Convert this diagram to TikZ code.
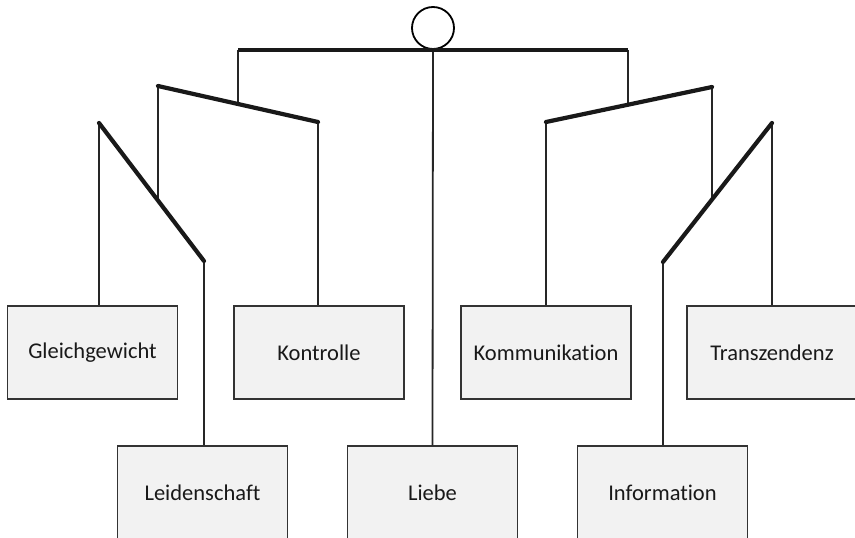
\documentclass[tikz,border=0pt]{standalone}
\usepackage{fontspec}
\setmainfont[Ligatures={NoCommon}]{Carlito}
\begin{document}
\begin{tikzpicture}[x=1pt,y=-1pt,
  box/.style={draw=black!80, line width=1.5pt, fill=black!5, minimum width=170pt, minimum height=93pt,
    inner sep=0pt, font=\fontsize{22.5}{26}\selectfont, text=black!90},
  bar/.style={line width=4.2pt, line cap=round, black!90},
  wire/.style={line width=1.8pt, black!85}]
\useasboundingbox (0,0) rectangle (855,538);
\clip (0,0) rectangle (855,538);
% boxes
\node[box] (gl) at (92.5,352.5) {Gleichgewicht};
\node[box] (ko) at (319,352.5) {Kontrolle};
\node[box] (km) at (546,352.5) {Kommunikation};
\node[box] (tr) at (772,352.5) {Transzendenz};
\node[box] (le) at (202.5,492.5) {Leidenschaft};
\node[box] (li) at (432.5,492.5) {Liebe};
\node[box] (in) at (662.5,492.5) {Information};
% ring and joints
\node[draw, circle, line width=1.8pt, minimum size=42pt, inner sep=0pt] (ring) at (433,28) {};
\coordinate (tL) at (238,50);
\coordinate (tR) at (628,50);
\coordinate (tC) at (433,50);
\coordinate (lA) at (158,86);
\coordinate (lB) at (318,122);
\coordinate (lH) at (238,104);
\coordinate (dA) at (99,123);
\coordinate (dB) at (204,261);
\coordinate (dH) at (158,200);
\coordinate (rA) at (546,122);
\coordinate (rB) at (712,87);
\coordinate (rH) at (628,104);
\coordinate (eA) at (663,262);
\coordinate (eB) at (772,123);
\coordinate (eH) at (712,197);
% wires
\draw[wire] (tC) -- (li.north);
\draw[wire] (tL) -- (lH);
\draw[wire] (tR) -- (rH);
\draw[wire] (lA) -- (dH);
\draw[wire] (lB) -- (lB |- ko.north);
\draw[wire] (dA) -- (dA |- gl.north);
\draw[wire] (dB) -- (dB |- le.north);
\draw[wire] (rB) -- (eH);
\draw[wire] (rA) -- (rA |- km.north);
\draw[wire] (eA) -- (eA |- in.north);
\draw[wire] (eB) -- (eB |- tr.north);
% bars
\draw[bar, line cap=butt] (tL) -- (tR);
\draw[bar] (lA) -- (lB);
\draw[bar] (dA) -- (dB);
\draw[bar] (rA) -- (rB);
\draw[bar] (eA) -- (eB);
\end{tikzpicture}
\end{document}
